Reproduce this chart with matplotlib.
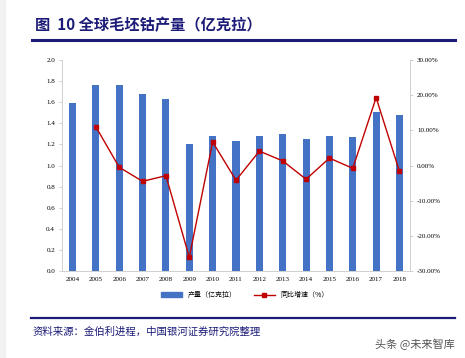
import numpy as np
import matplotlib.pyplot as plt
from matplotlib.lines import Line2D

plt.rcParams['font.family'] = ['Noto Sans CJK SC', 'DejaVu Sans']

years = ['2004', '2005', '2006', '2007', '2008', '2009', '2010', '2011',
         '2012', '2013', '2014', '2015', '2016', '2017', '2018']
output = [1.59, 1.76, 1.76, 1.68, 1.63, 1.20, 1.28, 1.23,
          1.28, 1.30, 1.25, 1.28, 1.27, 1.51, 1.48]
growth = [None, 11.0, -0.5, -4.5, -2.9, -26.1, 6.7, -4.2,
          4.1, 1.3, -3.9, 2.1, -0.8, 19.3, -1.7]

navy = '#1c1c78'
bar_c = '#4472c4'
line_c = '#c00000'
serif = ['Liberation Serif', 'DejaVu Serif']

fig = plt.figure(figsize=(4.65, 3.58), dpi=100)
fig.patches.append(plt.Rectangle((0, 0), 5/465, 1, transform=fig.transFigure,
                                 color='#f2f2f2', zorder=0))

ax = fig.add_axes([62/465, 1-271/358, 348/465, 211/358])
x = np.arange(len(years))
ax.bar(x, output, width=0.3, color=bar_c, zorder=2)
ax.set_ylim(0, 2.0)
ax.set_xlim(-0.45, len(years)-0.55)
ax.set_yticks(np.arange(0, 2.01, 0.2))
ax.set_yticklabels(['%.1f' % v for v in np.arange(0, 2.01, 0.2)], family=serif, fontsize=5)
ax.set_xticks(x)
ax.set_xticklabels(years, family=serif, fontsize=5)
ax.tick_params(axis='x', length=0, pad=4)
ax.tick_params(axis='y', length=2, width=0.5, color='#bfbfbf', pad=3)
ax.spines['top'].set_visible(False)
for s in ['left', 'right', 'bottom']:
    ax.spines[s].set_color('#d0d0d0')
    ax.spines[s].set_linewidth(0.6)

ax2 = ax.twinx()
gx = [i for i, g in enumerate(growth) if g is not None]
gy = [g for g in growth if g is not None]
ax2.plot(gx, gy, color=line_c, lw=1, marker='s', ms=3.2, zorder=3)
ax2.set_ylim(-30, 30)
ax2.set_yticks(np.arange(-30, 31, 10))
ax2.set_yticklabels(['%.2f%%' % v for v in np.arange(-30, 31, 10)], family=serif, fontsize=5)
ax2.tick_params(axis='y', length=2, width=0.5, color='#bfbfbf', pad=3)
ax2.spines['top'].set_visible(False)
for s in ['left', 'right', 'bottom']:
    ax2.spines[s].set_color('#d0d0d0')
    ax2.spines[s].set_linewidth(0.6)

handles = [plt.Rectangle((0, 0), 1, 1, color=bar_c),
           Line2D([0], [0], color=line_c, lw=1, marker='s', ms=3)]
fig.legend(handles, ['产量（亿克拉）', '同比增速（%）'], loc='center',
           bbox_to_anchor=(245/465, 1-295/358), ncol=2, frameon=False,
           fontsize=5, handlelength=3, handleheight=0.6, columnspacing=2.5)

fig.text(35/465, 1-25/358, '图  10 全球毛坯钴产量（亿克拉）', fontsize=11,
         fontweight='bold', color=navy, va='center', ha='left')
fig.add_artist(Line2D([32/465, 455/465], [1-40/358, 1-40/358], color=navy, lw=2.2))
fig.add_artist(Line2D([31/465, 455/465], [1-318/358, 1-318/358], color=navy, lw=1.6))
fig.text(33/465, 1-332/358, '资料来源：金伯利进程，中国银河证券研究院整理', fontsize=7.5,
         color=navy, va='center', ha='left', style='italic')
fig.text(455/465, 1-344/358, '头条 @未来智库', fontsize=8, color='#555555',
         va='center', ha='right')

fig.savefig('out.png', dpi=100)
